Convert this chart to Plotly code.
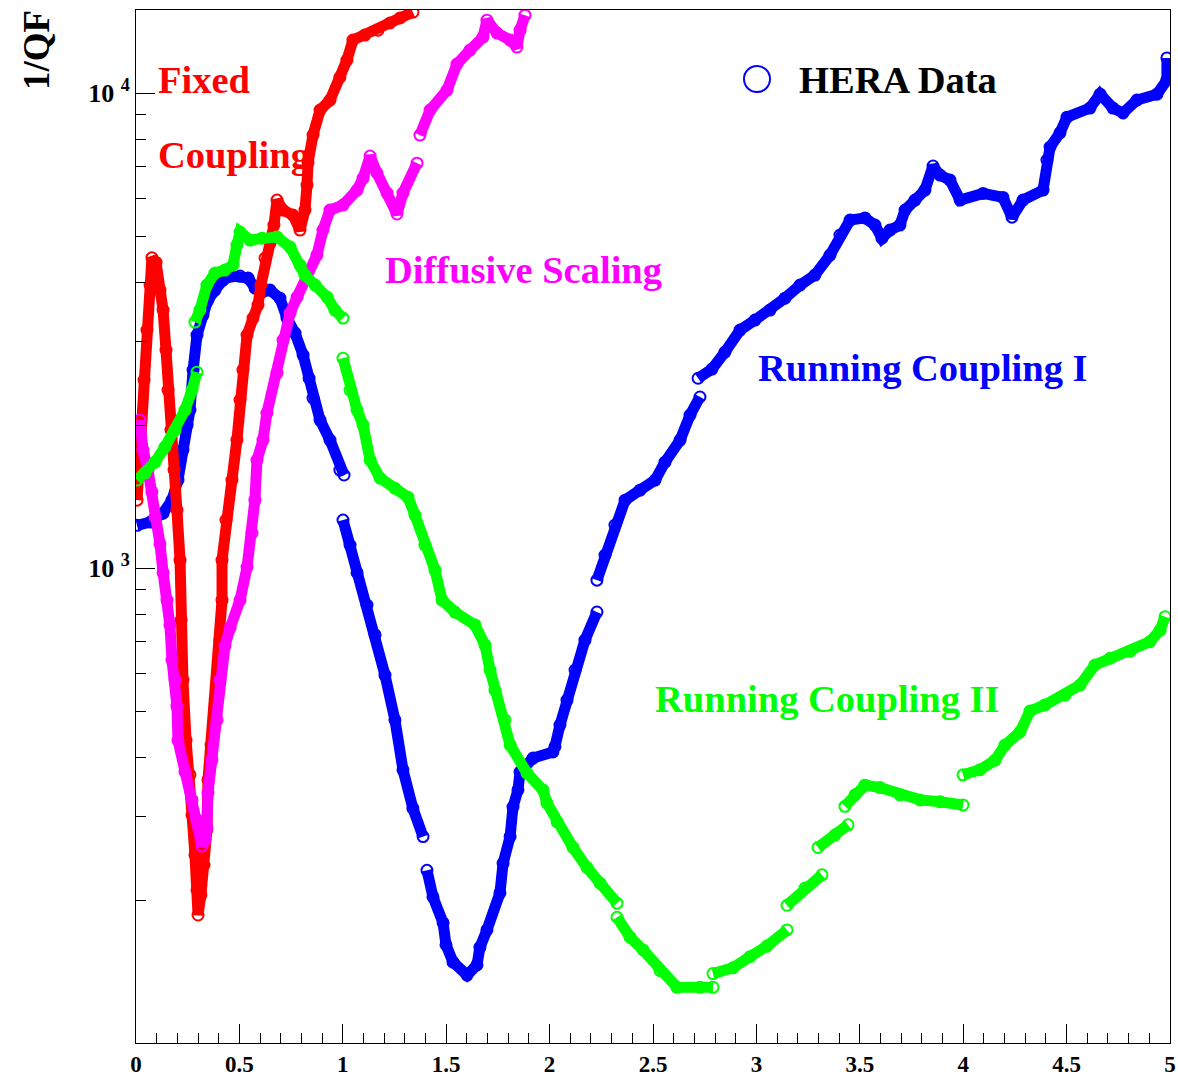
import plotly.graph_objects as go

# ---------------- data (x, 1/QF) ----------------
fixed_x = [0.005, 0.015, 0.024, 0.039, 0.053, 0.068, 0.077, 0.097, 0.116, 0.131, 0.145, 0.155, 0.169, 0.184,
           0.198, 0.213, 0.218, 0.227, 0.242, 0.261, 0.271, 0.285, 0.295, 0.300, 0.314, 0.329, 0.343, 0.348,
           0.363, 0.382, 0.397, 0.406, 0.416, 0.416, 0.435, 0.464, 0.488, 0.503, 0.517, 0.537, 0.566, 0.590,
           0.604, 0.624, 0.648, 0.667, 0.682, 0.711, 0.759, 0.793, 0.817, 0.827, 0.832, 0.856, 0.890, 0.938,
           0.986, 1.020, 1.049, 1.107, 1.170, 1.228, 1.277, 1.339]
fixed_y = [1390, 1688, 2049, 2488, 3170, 3943, 4500, 4400, 3848, 3493, 2877, 2370, 1952, 1608,
           1325, 1039, 777, 581, 434, 367, 302, 249, 210, 186, 205, 237, 281, 358,
           424, 502, 595, 705, 856, 1039, 1262, 1532, 1860, 2258, 2611, 3094, 3360, 3578,
           3943, 4495, 4830, 5275, 5954, 5672, 5537, 5148, 5672, 6403, 7140, 8158, 9209, 9667,
           10800, 11740, 12930, 13250, 13570, 14050, 14400, 14800]

diff_x = [0.019, 0.034, 0.058, 0.077, 0.092, 0.116, 0.131, 0.150, 0.164, 0.174, 0.189, 0.198, 0.203, 0.237,
          0.271, 0.295, 0.319, 0.334, 0.343, 0.348, 0.367, 0.392, 0.406, 0.430, 0.455, 0.503, 0.537, 0.561,
          0.575, 0.585, 0.614, 0.633, 0.682, 0.711, 0.745, 0.779, 0.827, 0.875, 0.904, 0.938, 1.001, 1.069,
          1.098, 1.132, 1.165, 1.214, 1.262, 1.291, 1.359, None, 1.373, 1.422, 1.504, 1.552, 1.615, 1.678,
          1.697, 1.746, 1.809, 1.842, 1.857, 1.881]
diff_y = [2049, 1772, 1608, 1447, 1280, 1124, 978, 856, 759, 640, 581, 512, 434, 372,
          325, 295, 260, 268, 284, 336, 394, 479, 581, 685, 748, 856, 1005, 1185,
          1390, 1688, 1860, 2120, 2574, 3020, 3443, 3720, 4180, 4560, 5148, 5672, 5811, 6250,
          6620, 7370, 6790, 6160, 5565, 6160, 7120, None, 8158, 9209, 10150, 11510, 12320, 13120,
          14240, 13380, 12930, 12500, 13570, 14590]

rc1_x = [0.005, 0.070, 0.131, 0.174, 0.203, 0.227, 0.247, 0.261, 0.276, 0.295, 0.324, 0.348, 0.382, 0.421,
         0.464, 0.503, 0.542, 0.576, 0.609, 0.648, 0.696, 0.730, 0.769, 0.808, 0.837, 0.856, 0.890, 0.938,
         0.986, 1.006, None,
         1.001, 1.035, 1.069, 1.117, 1.156, 1.204, 1.252, 1.291, 1.339, 1.388, None, 1.407, 1.436, 1.485,
         1.499, 1.533, 1.601, 1.649, 1.663, 1.697, 1.760, 1.775, 1.809, 1.823, 1.847, 1.857, 1.920, 2.016,
         2.026, 2.050, 2.084, 2.123, 2.171, 2.229, None,
         2.229, 2.268, 2.316, 2.365, 2.437, 2.510, 2.558, 2.631, 2.679, 2.727, None,
         2.718, 2.785, 2.848, 2.921, 2.993, 3.066, 3.138, 3.211, 3.283, 3.356, 3.404, 3.453, 3.525, 3.573,
         3.607, 3.646, 3.694, 3.719, 3.767, 3.815, 3.854, 3.888, 3.936, 3.985, 4.096, 4.192, 4.236, 4.289,
         4.386, 4.405, 4.420, 4.468, 4.502, 4.613, 4.662, 4.724, 4.773, 4.840, 4.937, 4.985, 4.985]
rc1_y = [1230, 1250, 1305, 1390, 1532, 1772, 2000, 2151, 2611, 3094, 3409, 3666, 3848, 4040,
         4120, 4120, 4080, 3885, 3810, 3848, 3700, 3360, 3125, 2808, 2510, 2280, 2049, 1860,
         1608, 1570, None,
         1262, 1118, 978, 836, 723, 595, 479, 376, 312, 272, None, 231, 203, 179,
         161, 148, 139, 146, 159, 173, 207, 239, 272, 314, 341, 372, 398, 410,
         421, 467, 527, 610, 705, 808, None,
         943, 1065, 1232, 1390, 1459, 1532, 1671, 1860, 2099, 2292, None,
         2510, 2624, 2850, 3170, 3327, 3493, 3700, 3943, 4139, 4560, 5025, 5404, 5460, 5275,
         4950, 5148, 5275, 5672, 5954, 6250, 7020, 6721, 6560, 5954, 6150, 6030, 5480, 5954,
         6250, 7227, 7700, 8250, 8900, 9300, 9950, 9300, 9080, 9667, 9950, 10650, 11860]

rc2_x = [0.005, 0.044, 0.092, 0.140, 0.189, 0.237, 0.271, 0.295, None,
         0.285, 0.309, 0.343, 0.382, 0.430, 0.469, 0.488, 0.503, 0.551, 0.609, 0.682, 0.745, 0.793, 0.817,
         0.866, 0.924, 0.962, 1.001, None,
         1.001, 1.035, 1.069, 1.098, 1.132, 1.180, 1.252, 1.315, 1.349, 1.397, 1.446, 1.480, 1.542, 1.639,
         1.688, 1.712, 1.736, 1.784, 1.809, 1.891, 1.968, 1.987, 2.036, 2.113, 2.181, 2.244, 2.326, None,
         2.326, 2.389, 2.452, 2.534, 2.616, 2.727, 2.790, None,
         2.790, 2.887, 2.969, 3.051, 3.148, None,
         3.148, 3.235, 3.317, None,
         3.298, 3.380, 3.443, None,
         3.428, 3.477, 3.525, 3.598, 3.694, 3.791, 3.888, 3.999, None,
         3.999, 4.081, 4.154, 4.202, 4.275, 4.323, 4.395, 4.492, 4.565, 4.637, 4.710, 4.807, 4.903, 4.952,
         4.976]
rc2_y = [1532, 1585, 1672, 1798, 1952, 2151, 2370, 2585, None,
         3295, 3493, 3943, 4180, 4240, 4344, 4786, 5100, 4905, 4950, 4980, 4740, 4344, 4139,
         3943, 3720, 3493, 3360, None,
         2767, 2370, 2151, 2000, 1688, 1547, 1473, 1410, 1293, 1118, 990, 856, 808, 759,
         688, 610, 553, 479, 424, 370, 341, 320, 292, 258, 234, 217, 197, None,
         184, 167, 157, 142, 131, 131, 131, None,
         140, 144, 152, 160, 173, None,
         195, 212, 226, None,
         258, 274, 288, None,
         315, 333, 349, 345, 333, 325, 322, 317, None,
         367, 376, 394, 424, 452, 500, 515, 540, 567, 625, 646, 668, 700, 740,
         790]

x_tick_vals = [0, 0.5, 1, 1.5, 2, 2.5, 3, 3.5, 4, 4.5, 5]
x_tick_text = ["0", "0.5", "1", "1.5", "2", "2.5", "3", "3.5", "4", "4.5", "5"]
y_tick_vals = [1000, 10000]
y_tick_text = ["10 <sup>3</sup>", "10 <sup>4</sup>"]
y_minor_vals = [200, 300, 400, 500, 600, 700, 800, 900, 2000, 3000, 4000, 5000, 6000, 7000, 8000, 9000]

RED, MAG, BLUE, GREEN = "#ff0000", "#ff00ff", "#0000ff", "#00ff00"
FONT = "Liberation Serif"

fig = go.Figure()


def add_series(xs, ys, color):
    fig.add_trace(go.Scatter(
        x=xs, y=ys, mode="lines+markers",
        line=dict(color=color, width=11),
        marker=dict(symbol="circle-open", size=11, color=color, line=dict(width=2, color=color)),
        showlegend=False, hoverinfo="skip", cliponaxis=True))


add_series(rc1_x, rc1_y, BLUE)
add_series(fixed_x, fixed_y, RED)
add_series(diff_x, diff_y, MAG)
add_series(rc2_x, rc2_y, GREEN)

W, H = 1178, 1081
L, R, T, B = 136, 8, 10, 38
PW, PH = W - L - R, H - T - B


def px(xp):
    return (xp - L) / PW


def py(yp):
    return (H - B - yp) / PH


def label(text, xp, yp, color, size=38.5):
    fig.add_annotation(text=text, xref="paper", yref="paper", x=px(xp), y=py(yp),
                       xanchor="left", yanchor="middle", showarrow=False,
                       font=dict(family=FONT, size=size, color=color, weight="bold"))


label("Fixed", 156, 80, RED)
label("Coupling", 156, 155, RED)
label("Diffusive Scaling", 383, 270, MAG)
label("HERA Data", 797, 80, "black")
label("Running Coupling I", 756, 368, BLUE)
label("Running Coupling II", 653, 699, GREEN)

# legend marker for HERA Data
fig.add_shape(type="circle", xref="paper", yref="paper",
              x0=px(744), x1=px(770), y0=py(92), y1=py(66),
              line=dict(color=BLUE, width=2), fillcolor="rgba(0,0,0,0)")

# y axis title
fig.add_annotation(text="1/QF", xref="paper", yref="paper", x=px(36), y=py(50),
                   xanchor="center", yanchor="middle", textangle=-90, showarrow=False,
                   font=dict(family=FONT, size=37, color="black", weight="bold"))

tickfont = dict(family=FONT, size=23, color="black", weight="bold")

fig.update_layout(
    width=W, height=H,
    margin=dict(l=L, r=R, t=T, b=B, autoexpand=False),
    paper_bgcolor="white", plot_bgcolor="white",
    xaxis=dict(range=[0, 5], tickmode="array", tickvals=x_tick_vals, ticktext=x_tick_text,
               ticks="inside", ticklen=19, tickwidth=1, tickcolor="black",
               showline=True, linecolor="black", linewidth=1, mirror=True, automargin=False,
               showgrid=False, zeroline=False, tickfont=tickfont,
               minor=dict(ticks="inside", ticklen=10, tickwidth=1, tickcolor="black",
                          dtick=0.1, tick0=0, showgrid=False)),
    yaxis=dict(type="log", range=[2, 4.175], tickmode="array", tickvals=y_tick_vals, ticktext=y_tick_text,
               ticks="inside", ticklen=19, tickwidth=1, tickcolor="black",
               showline=True, linecolor="black", linewidth=1, mirror=True, automargin=False,
               showgrid=False, zeroline=False, tickfont=dict(family=FONT, size=26, color="black", weight="bold"),
               minor=dict(ticks="inside", ticklen=10, tickwidth=1, tickcolor="black",
                          tickmode="array", tickvals=y_minor_vals, showgrid=False)),
)

fig.write_html("out.html")
